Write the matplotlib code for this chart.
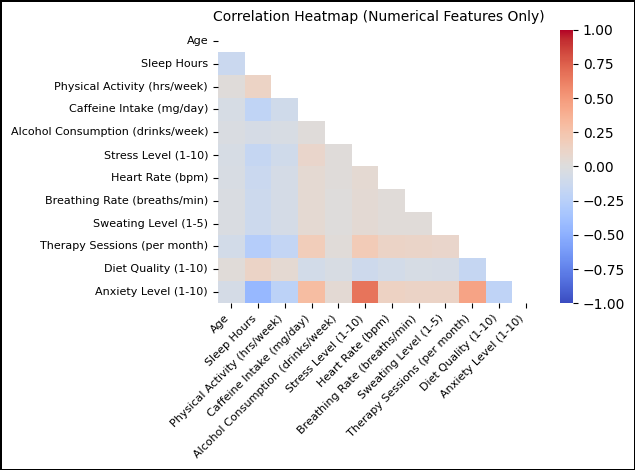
import matplotlib
matplotlib.use("Agg")
import matplotlib.pyplot as plt
import seaborn as sns
import numpy as np
import pandas as pd

features = ["Age", "Sleep Hours", "Physical Activity (hrs/week)", "Caffeine Intake (mg/day)",
            "Alcohol Consumption (drinks/week)", "Stress Level (1-10)", "Heart Rate (bpm)",
            "Breathing Rate (breaths/min)", "Sweating Level (1-5)", "Therapy Sessions (per month)",
            "Diet Quality (1-10)", "Anxiety Level (1-10)"]

# lower triangle of the correlation matrix, row by row (values below the diagonal)
lower_rows = [
    [],
    [-0.14],
    [0.02, 0.13],
    [-0.05, -0.20, -0.10],
    [-0.03, -0.06, -0.04, 0.02],
    [-0.05, -0.17, -0.10, 0.10, 0.02],
    [-0.04, -0.14, -0.07, 0.06, 0.02, 0.06],
    [-0.03, -0.12, -0.07, 0.06, 0.01, 0.05, 0.03],
    [-0.03, -0.12, -0.07, 0.06, 0.01, 0.05, 0.03, 0.03],
    [-0.08, -0.27, -0.18, 0.18, 0.03, 0.20, 0.12, 0.11, 0.10],
    [0.03, 0.12, 0.06, -0.08, -0.04, -0.11, -0.08, -0.05, -0.06, -0.17],
    [-0.07, -0.44, -0.22, 0.30, 0.05, 0.67, 0.14, 0.12, 0.12, 0.45, -0.21],
]

n = len(features)
corr = np.eye(n)
for i, row in enumerate(lower_rows):
    for j, v in enumerate(row):
        corr[i, j] = v
        corr[j, i] = v
corr = pd.DataFrame(corr, index=features, columns=features)

mask = np.triu(np.ones_like(corr, dtype=bool))

fig = plt.figure(figsize=(6.35, 4.7), dpi=100)
fig.patch.set_edgecolor("black")
fig.patch.set_linewidth(1)
ax = fig.add_axes([0.343, 0.3545, 0.506, 0.5825])
cax = fig.add_axes([0.882, 0.3545, 0.0205, 0.5825])
sns.heatmap(corr, mask=mask, cmap="coolwarm", vmin=-1, vmax=1, center=0, ax=ax, cbar_ax=cax)
ax.set_title("Correlation Heatmap (Numerical Features Only)", fontsize=10)
ax.set_xticklabels(ax.get_xticklabels(), rotation=45, ha="right", fontsize=8)
ax.set_yticklabels(ax.get_yticklabels(), fontsize=8)
plt.savefig("out.png", dpi=100)
